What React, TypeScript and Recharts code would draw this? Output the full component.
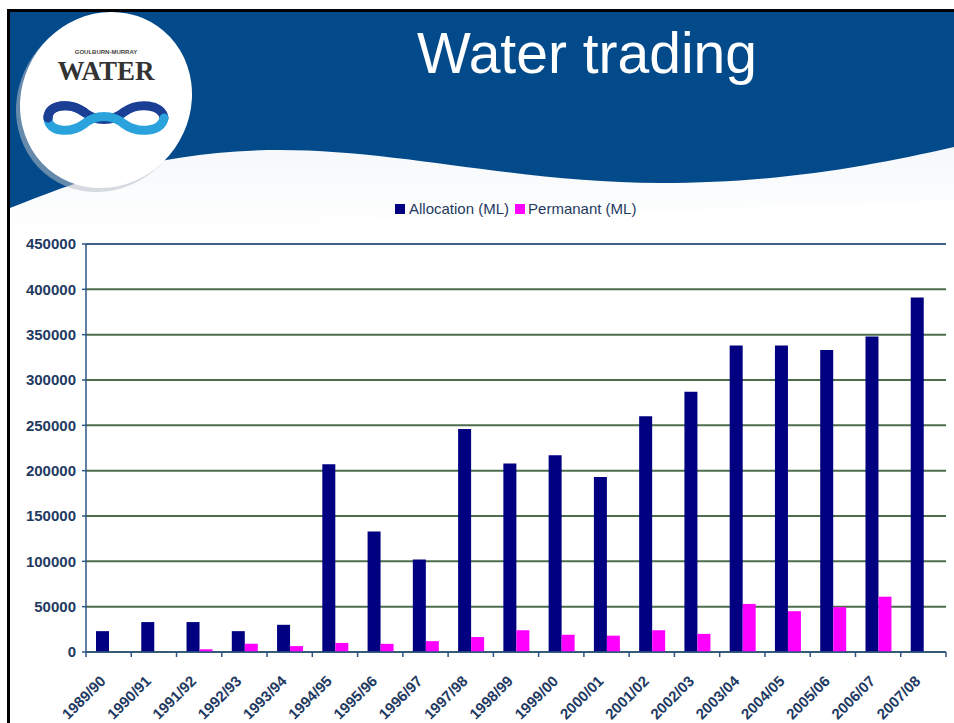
import React from 'react';
import { BarChart, Bar, XAxis, YAxis, CartesianGrid, Legend, ReferenceLine } from 'recharts';

const categories = ['1989/90', '1990/91', '1991/92', '1992/93', '1993/94', '1994/95', '1995/96', '1996/97', '1997/98', '1998/99', '1999/00', '2000/01', '2001/02', '2002/03', '2003/04', '2004/05', '2005/06', '2006/07', '2007/08'];
const allocation = [23000, 33000, 33000, 23000, 30000, 207000, 133000, 102000, 246000, 208000, 217000, 193000, 260000, 287000, 338000, 338000, 333000, 348000, 391000];
const permanent = [0, 0, 3000, 9000, 6500, 10000, 9000, 12000, 16500, 24000, 19000, 18000, 24000, 20000, 53000, 45000, 49500, 61000, 0];
const yTicks = [0, 50000, 100000, 150000, 200000, 250000, 300000, 350000, 400000, 450000];

const data = categories.map((c, i) => ({ year: c, allocation: allocation[i], permanent: permanent[i] }));

const W = 954;
const H = 723;
const PLOT_LEFT = 86;
const PLOT_RIGHT = 946;
const PLOT_W = PLOT_RIGHT - PLOT_LEFT;
const FONT = '"Liberation Sans", Arial, sans-serif';
const LABEL = '#1F3A62';
const AXIS = '#2E5685';

const XTick = (props: any) => {
  const { x, y, payload } = props;
  const idx = categories.indexOf(payload.value);
  const step = PLOT_W / categories.length;
  const tx = x - 2;
  const ty = y + 30;
  return (
    <g>
      <line x1={x - step / 2} x2={x - step / 2} y1={y} y2={y + 5} stroke={AXIS} strokeWidth={1.5} />
      {idx === categories.length - 1 && (
        <line x1={x + step / 2} x2={x + step / 2} y1={y} y2={y + 5} stroke={AXIS} strokeWidth={1.5} />
      )}
      <text x={tx} y={ty} transform={`rotate(-45 ${tx} ${ty})`} textAnchor="end" fill={LABEL} fontSize={15} fontWeight="bold" fontFamily={FONT}>
        {payload.value}
      </text>
    </g>
  );
};

const LegendContent = () => (
  <div style={{ display: 'flex', alignItems: 'center', fontFamily: FONT, fontSize: 15, color: '#1F3A62', whiteSpace: 'nowrap' }}>
    <span style={{ display: 'inline-block', width: 10, height: 10, background: '#000080', marginRight: 4 }} />
    <span style={{ marginRight: 6 }}>Allocation (ML)</span>
    <span style={{ display: 'inline-block', width: 10, height: 10, background: '#FF00FF', marginRight: 3 }} />
    <span>Permanant (ML)</span>
  </div>
);

const Header = () => (
  <svg width={W} height={H} style={{ position: 'absolute', left: 0, top: 0 }}>
    <defs>
      <linearGradient id="fade" x1="0" y1="0" x2="0" y2="1">
        <stop offset="0" stopColor="#E8EEF4" />
        <stop offset="1" stopColor="#FFFFFF" />
      </linearGradient>
    </defs>
    <rect x={0} y={0} width={W} height={H} fill="#FFFFFF" />
    <path d="M 10 150 L 954 130 L 954 200 L 10 235 Z" fill="url(#fade)" opacity={0.5} />
    <path d="M 10 12 H 954 V 147 C 870 166, 780 183, 660 183 C 520 183, 400 150, 280 150 C 160 150, 80 180, 10 208 Z" fill="#034A8B" />
    <line x1={7} y1={10.5} x2={954} y2={10.5} stroke="#000" strokeWidth={3} />
    <line x1={8.5} y1={9} x2={8.5} y2={H} stroke="#000" strokeWidth={3} />
    <ellipse cx={102} cy={104} rx={84} ry={90} transform="rotate(35 102 104)" fill="#B8C0C8" opacity={0.55} />
    <ellipse cx={106} cy={100} rx={84} ry={90} transform="rotate(35 106 100)" fill="#FFFFFF" />
    <text x={106} y={54} textAnchor="middle" fontSize={6} fill="#444" fontFamily={FONT} fontWeight="bold">GOULBURN-MURRAY</text>
    <text x={106} y={80} textAnchor="middle" fontSize={27} fill="#333" fontFamily='"Liberation Serif", "DejaVu Serif", serif' fontWeight="bold">WATER</text>
    <path d="M 48 118 C 48 104, 70 102, 84 112 C 96 122, 112 122, 124 112 C 138 102, 162 104, 164 118" fill="none" stroke="#1B3F95" strokeWidth={9} strokeLinecap="round" />
    <path d="M 48 118 C 48 132, 70 134, 84 124 C 96 114, 112 114, 124 124 C 138 134, 162 132, 164 118" fill="none" stroke="#2AA3DC" strokeWidth={9} strokeLinecap="round" />
    <path d="M 48 118 C 48 104, 70 102, 84 112" fill="none" stroke="#1B3F95" strokeWidth={9} strokeLinecap="round" />
    <text x={587} y={73} textAnchor="middle" fontSize={57} fill="#FFFFFF" fontFamily={FONT}>Water trading</text>
  </svg>
);

export default function App() {
  return (
    <div style={{ position: 'absolute', left: 0, top: 0, width: W, height: H, background: '#fff' }}>
      <Header />
      <div style={{ position: 'absolute', left: 0, top: 0 }}>
        <BarChart
          width={W}
          height={H}
          data={data}
          margin={{ top: 244, right: W - PLOT_RIGHT, left: 8, bottom: 11 }}
          barGap={0}
          barSize={13}
        >
          <CartesianGrid yAxisId="left" horizontal vertical={false} stroke="#4C6E4C" strokeWidth={2} />
          <XAxis
            dataKey="year"
            interval={0}
            tickLine={false}
            tickSize={0}
            tickMargin={0}
            height={60}
            axisLine={{ stroke: AXIS, strokeWidth: 1.5 }}
            tick={<XTick />}
          />
          <YAxis
            yAxisId="left"
            domain={[0, 450000]}
            ticks={yTicks}
            interval={0}
            width={78}
            tickSize={4}
            tickMargin={6}
            axisLine={{ stroke: AXIS, strokeWidth: 1.5 }}
            tickLine={{ stroke: AXIS, strokeWidth: 1.5 }}
            tick={{ fill: LABEL, fontSize: 15, fontWeight: 'bold', fontFamily: FONT }}
          />
          <YAxis
            yAxisId="right"
            orientation="right"
            domain={[0, 450000]}
            ticks={yTicks}
            width={0}
            tick={false}
            tickLine={false}
            axisLine={{ stroke: '#7F9BB8', strokeWidth: 2 }}
          />
          <ReferenceLine yAxisId="left" y={450000} stroke="#3E5F86" strokeWidth={2} />
          <Legend
            verticalAlign="middle"
            align="center"
            wrapperStyle={{ top: 200, left: 395, width: 260 }}
            content={<LegendContent />}
          />
          <Bar yAxisId="left" dataKey="allocation" name="Allocation (ML)" fill="#000080" isAnimationActive={false} />
          <Bar yAxisId="left" dataKey="permanent" name="Permanant (ML)" fill="#FF00FF" isAnimationActive={false} />
        </BarChart>
      </div>
    </div>
  );
}
